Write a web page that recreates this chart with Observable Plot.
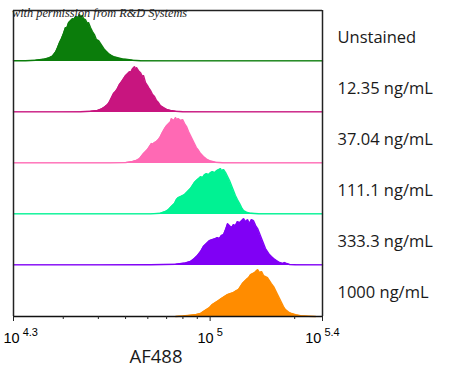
<!DOCTYPE html>
<html><head><meta charset="utf-8">
<script src="https://cdn.jsdelivr.net/npm/d3@7"></script>
<script src="https://cdn.jsdelivr.net/npm/@observablehq/plot@0.6"></script>
<style>
body{margin:0;background:#fff;}
#wrap{position:relative;width:450px;height:386px;}
#wm{position:absolute;left:12px;top:6px;font:italic 12.3px "Liberation Serif",serif;color:#222;white-space:nowrap;pointer-events:none;line-height:14px;}
</style></head><body>
<div id="wrap"><div id="chart"></div><div id="wm">with permission from R&amp;D Systems</div></div>
<script>
const labels = ["Unstained", "12.35 ng/mL", "37.04 ng/mL", "111.1 ng/mL", "333.3 ng/mL", "1000 ng/mL"];
const colors = ["#0b7d0b", "#c8157f", "#ff69b4", "#00f293", "#8000f5", "#ff8c00"];

// log10(AF488) bins and relative event counts
const unstainedLog = [4.300,4.343,4.378,4.407,4.425,4.439,4.450,4.457,4.464,4.471,4.478,4.485,4.489,4.496,4.503,4.510,4.514,4.521,4.528,4.535,4.539,4.546,4.549,4.556,4.563,4.567,4.574,4.581,4.588,4.595,4.603,4.610,4.617,4.624,4.631,4.638,4.649,4.660,4.674,4.688,4.706,4.724,4.752,4.859,5.144,5.400];
const unstainedCount = [0.8,0.8,1.2,2.2,3.5,5.5,9.5,14,19,23,28,34,33,39,41,43,42,45,44,47,45,46,43,42,38,39,34,30,27,22,21,18,15,12,10,8,6,4.5,3.5,2.6,2,1.2,0.8,0.6,0.6,0.6];

const ng12Log = [4.300,4.467,4.539,4.574,4.599,4.613,4.624,4.635,4.642,4.649,4.656,4.663,4.670,4.677,4.685,4.692,4.699,4.706,4.713,4.717,4.724,4.731,4.734,4.738,4.745,4.752,4.759,4.763,4.770,4.777,4.781,4.788,4.795,4.802,4.809,4.816,4.823,4.834,4.845,4.859,4.877,4.902,5.037,5.400];
const ng12Count = [0.6,0.6,0.8,1.2,2,3.5,5.5,8,11,15,19,21,24,28,31,34,37,39,41,40,44,46,43,45,42,40,36,37,30,27,25,22,18,16,12,10,7,5,3.2,2,1.2,0.8,0.6,0.6];

const ng37Log = [4.300,4.645,4.699,4.724,4.738,4.749,4.756,4.763,4.770,4.777,4.784,4.791,4.795,4.802,4.809,4.816,4.823,4.830,4.838,4.845,4.852,4.859,4.862,4.870,4.877,4.880,4.887,4.895,4.902,4.909,4.916,4.923,4.930,4.937,4.944,4.951,4.959,4.966,4.976,4.987,5.001,5.019,5.044,5.144,5.400];
const ng37Count = [0.6,0.6,0.9,2,3.2,5,7.5,10,12,14,17,20,19,21,22,24,27,31,35,38,40,42,45,43,46,44,45,43,44,40,37,32,28,24,20,16,13,10,7,4.5,2.5,1.3,0.8,0.6,0.6];

const ng111Log = [4.300,4.788,4.823,4.841,4.852,4.862,4.873,4.880,4.887,4.895,4.902,4.909,4.916,4.923,4.930,4.937,4.944,4.951,4.959,4.966,4.973,4.980,4.987,4.994,5.001,5.008,5.016,5.023,5.030,5.037,5.040,5.048,5.055,5.062,5.069,5.076,5.083,5.090,5.097,5.105,5.112,5.119,5.129,5.144,5.172,5.400];
const ng111Count = [0.6,0.6,1.3,3,5,8,11,15,17,18,19,20,22,24,26,29,32,34,36,38,37,40,41,40,42,43,42,44,45,46,44,45,42,38,34,29,24,19,15,11,7,4,2.3,1.2,0.7,0.6];

const ng333Log = [4.300,4.610,4.788,4.877,4.912,4.930,4.944,4.955,4.966,4.976,4.987,4.998,5.008,5.019,5.026,5.033,5.040,5.048,5.055,5.062,5.069,5.076,5.083,5.090,5.097,5.105,5.112,5.119,5.126,5.133,5.140,5.147,5.154,5.162,5.169,5.176,5.183,5.190,5.197,5.204,5.211,5.218,5.226,5.236,5.247,5.258,5.265,5.272,5.283,5.304,5.400];
const ng333Count = [0.6,0.6,0.8,1.2,2.5,4,7,10,14,19,22,25,26,27,28,27,30,31,36,42,40,38,41,40,44,43,45,47,44,46,42,46,45,40,37,32,27,22,17,14,11,9,7,5,3,2,3,2,1,0.7,0.6];

const ng1000Log = [4.877,4.902,4.930,4.951,4.966,4.976,4.987,4.998,5.008,5.019,5.030,5.040,5.051,5.062,5.072,5.083,5.094,5.101,5.108,5.115,5.122,5.129,5.137,5.144,5.151,5.158,5.165,5.169,5.176,5.183,5.190,5.197,5.204,5.211,5.218,5.226,5.233,5.240,5.247,5.254,5.261,5.268,5.279,5.290,5.304,5.322,5.350,5.375];
const ng1000Count = [0,0.5,1.3,2,3,5,7,9,12,14,16,18,20,22,23,24,26,27,30,33,35,37,39,42,43,44,46,47,44,45,41,40,39,36,33,30,26,22,18,14,10,7,4.5,3,1.8,0.8,0.3,0];

const seriesLogs = [unstainedLog, ng12Log, ng37Log, ng111Log, ng333Log, ng1000Log];
const seriesCounts = [unstainedCount, ng12Count, ng37Count, ng111Count, ng333Count, ng1000Count];

const xDomainExps = [4.3, 5.4];
const majorTickExps = ["4.3", "5", "5.4"];
const minorTickValues = [30000, 40000, 50000, 60000, 70000, 80000, 90000, 200000];
const Y_MAX = 51.17;

const rows = [];
labels.forEach((s, i) => {
  seriesLogs[i].forEach((l, j) => rows.push({s, v: 10 ** l, c: seriesCounts[i][j]}));
});
const xEdges = xDomainExps.map(e => 10 ** e);
const majorTicks = majorTickExps.map(e => 10 ** +e);

const chart = Plot.plot({
  width: 450, height: 386,
  marginLeft: 13, marginRight: 128, marginTop: 9, marginBottom: 70,
  style: {background: "white", color: "black", overflow: "visible"},
  x: {type: "log", domain: xEdges},
  y: {domain: [0, Y_MAX], axis: null},
  fy: {domain: labels, padding: 0},
  color: {domain: labels, range: colors},
  marks: [
    Plot.areaY(rows, {x: "v", y: "c", fy: "s", fill: "s", curve: "linear"}),
    Plot.lineY(rows, {x: "v", y: "c", fy: "s", stroke: "s", strokeWidth: 1.4}),
    Plot.ruleX(xEdges, {stroke: "#222", strokeWidth: 1.5}),
    Plot.ruleY([{s: labels[0], c: Y_MAX}], {fy: "s", y: "c", stroke: "#222", strokeWidth: 1.5}),
    Plot.ruleY([{s: labels[labels.length - 1], c: 0}], {fy: "s", y: "c", stroke: "#111", strokeWidth: 1.5}),
    Plot.axisX({ticks: majorTicks, tickSize: 5, tickPadding: 11, label: null,
      tickFormat: d => "10^" + String(+Math.log10(d).toFixed(1)),
      fontSize: 14.5, fontFamily: "Liberation Sans, Arial, sans-serif", stroke: "#222"}),
    Plot.axisX({ticks: minorTickValues, tickSize: 3, label: null, tickFormat: () => "", stroke: "#222"}),
    Plot.axisFy({anchor: "right", tickSize: 0, tickPadding: 15, label: null, dy: 2,
      fontSize: 16.5, fontFamily: "Open Sans, sans-serif", fill: "#1a1a1a"}),
    Plot.text([{s: labels[labels.length - 1], t: "AF488"}], {fy: "s", text: "t", frameAnchor: "bottom",
      dy: 46, dx: -12, fontSize: 18.5, fontFamily: "Open Sans, sans-serif", fill: "#1a1a1a"})
  ]
});

d3.select(chart).selectAll("text").each(function () {
  const t = this.textContent;
  if (!t.startsWith("10^")) return;
  const [b, e] = t.split("^");
  const sel = d3.select(this);
  sel.text(null);
  const base = sel.append("tspan").text(b);
  sel.append("tspan").attr("dx", 3).attr("dy", -7).attr("font-size", 11).text(e);
  if (e === majorTickExps[0]) { sel.attr("text-anchor", "start"); base.attr("dx", -10); }
});

document.getElementById("chart").appendChild(chart);
</script>
</body></html>
